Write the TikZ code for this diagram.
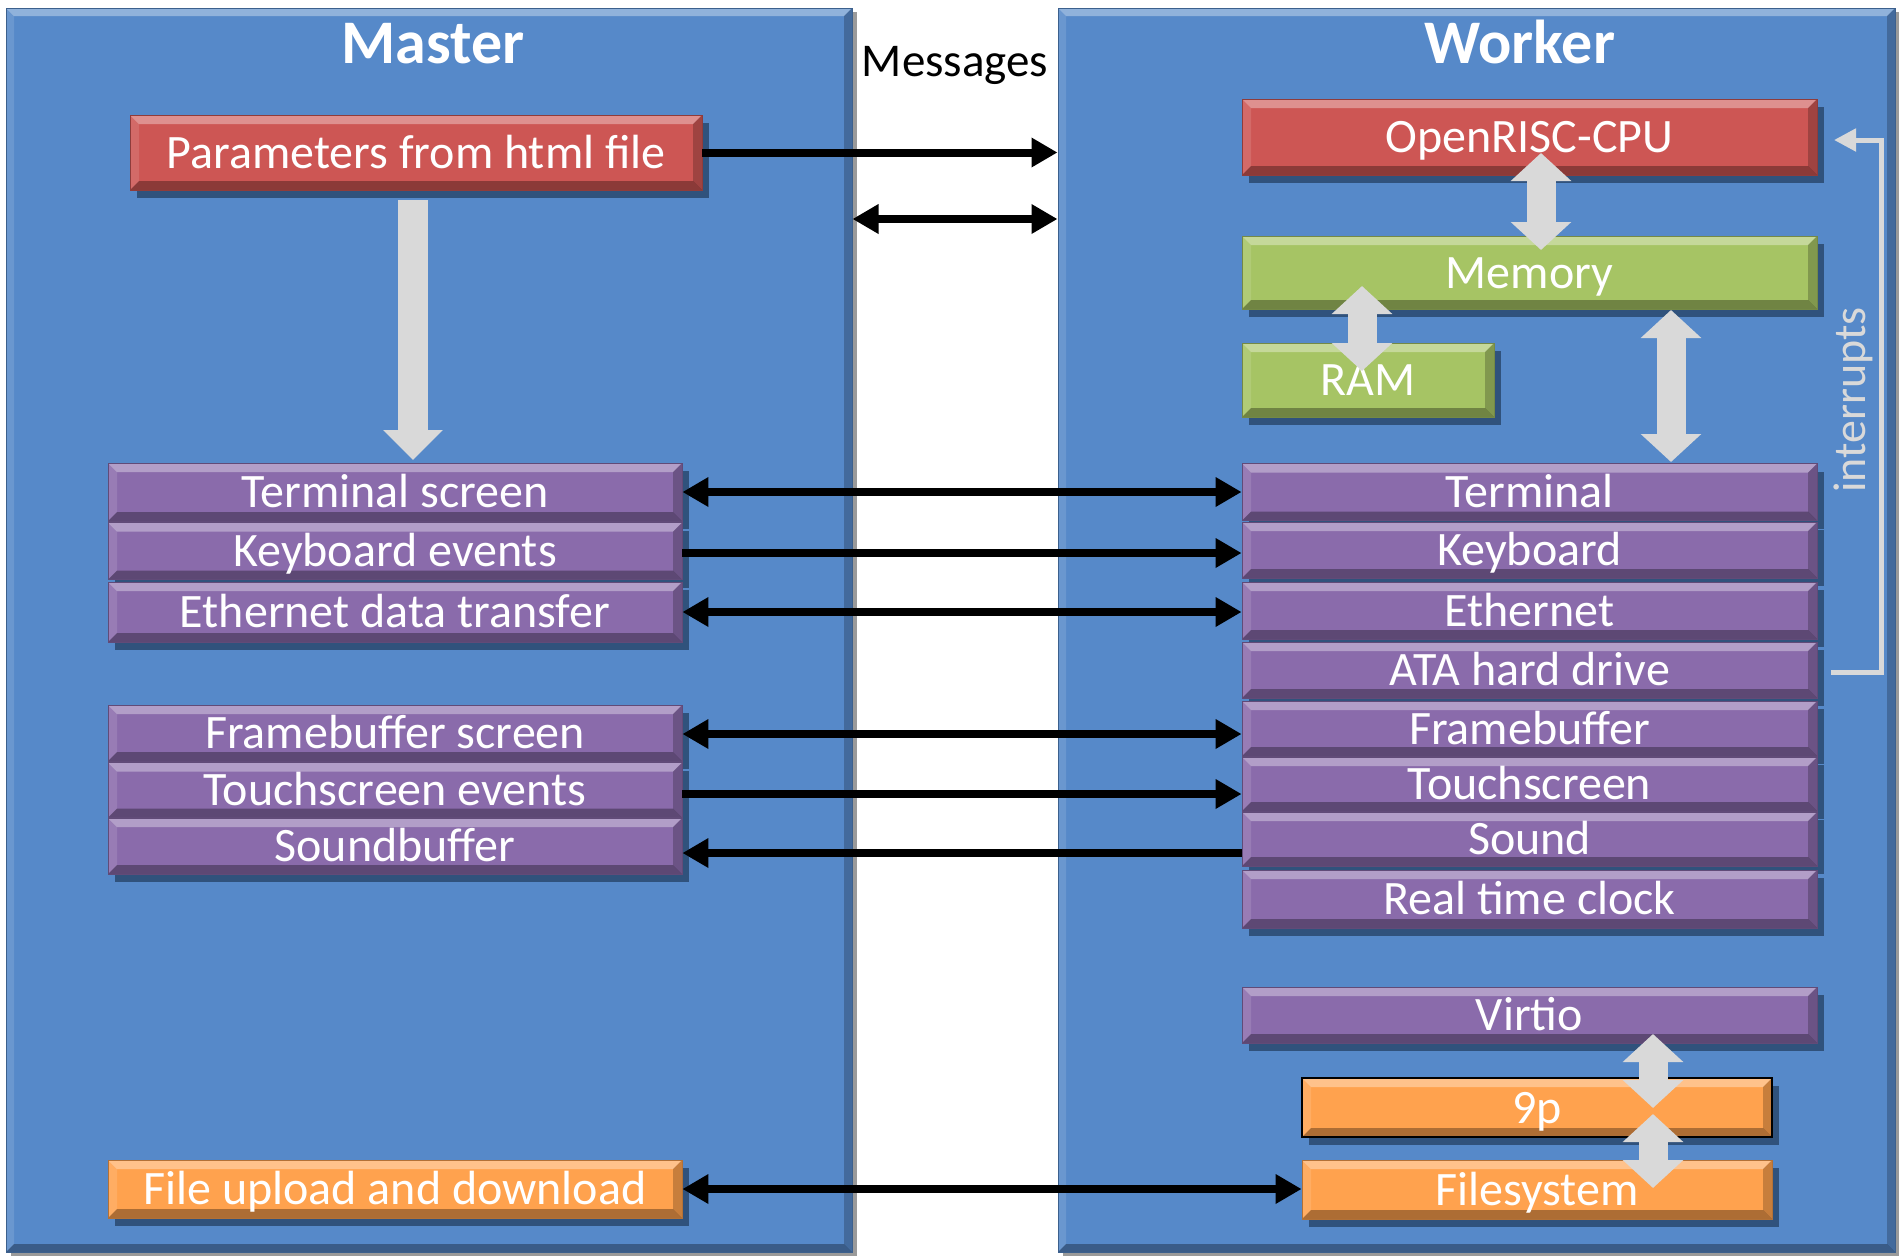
\documentclass[tikz,border=0pt]{standalone}
\usepackage{fontspec}
\setmainfont{Carlito}
\usetikzlibrary{arrows.meta,calc}

\definecolor{panelblue}{HTML}{5689C9}
\definecolor{panelshade}{HTML}{9A9A9A}
\definecolor{boxshadow}{HTML}{30527C}
\definecolor{cpured}{HTML}{CD5654}
\definecolor{memgreen}{HTML}{A6C464}
\definecolor{devpurple}{HTML}{8A6BAB}
\definecolor{fsorange}{HTML}{FFA24E}
\definecolor{blockgray}{HTML}{D9D9D9}

\tikzset{
  bev/.store in=\bevsize, bev=9pt,
  % bevelled edges: light top/left, dark bottom/right
  bevel/.style={
    path picture={
      \fill[white,opacity=.35]
        (path picture bounding box.north west) -- (path picture bounding box.north east)
        -- ([shift={(-\bevsize,-\bevsize)}]path picture bounding box.north east)
        -- ([shift={(\bevsize,-\bevsize)}]path picture bounding box.north west) -- cycle;
      \fill[white,opacity=.12]
        (path picture bounding box.north west)
        -- ([shift={(\bevsize,-\bevsize)}]path picture bounding box.north west)
        -- ([shift={(\bevsize,\bevsize)}]path picture bounding box.south west)
        -- (path picture bounding box.south west) -- cycle;
      \fill[black,opacity=.32]
        (path picture bounding box.south west) -- (path picture bounding box.south east)
        -- ([shift={(-\bevsize,\bevsize)}]path picture bounding box.south east)
        -- ([shift={(\bevsize,\bevsize)}]path picture bounding box.south west) -- cycle;
      \fill[black,opacity=.22]
        (path picture bounding box.north east)
        -- (path picture bounding box.south east)
        -- ([shift={(-\bevsize,\bevsize)}]path picture bounding box.south east)
        -- ([shift={(-\bevsize,-\bevsize)}]path picture bounding box.north east) -- cycle;
    }
  },
  panel/.style={
    fill=panelblue, draw=panelblue!70!black, line width=1pt, inner sep=0pt,
    bev=8pt, bevel,
    preaction={fill=panelshade, transform canvas={shift={(5pt,-4pt)}}}
  },
  blockbox/.style={
    fill=#1, draw=#1!70!black, line width=0.8pt, inner sep=0pt,
    text=white, text height=31pt, text depth=0pt,
    font=\fontsize{48}{53}\selectfont,
    bev=9pt, bevel,
    preaction={fill=boxshadow, transform canvas={shift={(7pt,-8pt)}}}
  },
  title/.style={text=white, font=\fontsize{62}{68}\selectfont\bfseries, anchor=base},
  msg/.style={line width=8pt, black, arrows={Triangle[length=26pt,width=28pt]-Triangle[length=26pt,width=28pt]}},
  msgto/.style={line width=8pt, black, -{Triangle[length=26pt,width=28pt]}},
  bus/.style={line width=29pt, blockgray,
    {Triangle[length=28pt,width=59pt]}-{Triangle[length=28pt,width=59pt]}},
  busto/.style={line width=30pt, blockgray, -{Triangle[length=30pt,width=58pt]}},
}

\begin{document}
\begin{tikzpicture}[x=1pt,y=-1pt]
\useasboundingbox (0,0) rectangle (1899,1256);
\fill[white] (0,0) rectangle (1899,1256);

% the two sides
\node[panel, minimum width=846pt, minimum height=1244pt] (ms) at (429,630) {};
\node[panel, minimum width=837pt, minimum height=1244pt] (wk) at (1476.5,630) {};

\node[title] (mstitle) at (433,63) {Master};
\node[title] (wktitle) at (1520,63) {Worker};
\node[anchor=base, font=\fontsize{47}{52}\selectfont] (msgs) at (955,76) {Messages};

% master side
\node[blockbox=cpured, minimum width=572pt, minimum height=75pt] (ps) at (416,152.5) {Parameters from html file};
\node[blockbox=devpurple, minimum width=574pt, minimum height=58pt] (ts)  at (395,492) {Terminal screen};
\node[blockbox=devpurple, minimum width=574pt, minimum height=57pt] (ke)  at (395,551) {Keyboard events};
\node[blockbox=devpurple, minimum width=574pt, minimum height=60pt] (ed)  at (395,612) {Ethernet data transfer};
\node[blockbox=devpurple, minimum width=574pt, minimum height=56pt] (fbs) at (395,733) {Framebuffer screen};
\node[blockbox=devpurple, minimum width=574pt, minimum height=55pt] (tse) at (395,790) {Touchscreen events};
\node[blockbox=devpurple, minimum width=574pt, minimum height=56pt] (sb)  at (395,846) {Soundbuffer};
\node[blockbox=fsorange,  minimum width=574pt, minimum height=58pt] (fud) at (395,1189) {File upload and download};

% worker side
\node[blockbox=cpured,   minimum width=575pt, minimum height=76pt] (cpu) at (1529.5,137) {OpenRISC-CPU};
\node[blockbox=memgreen, minimum width=575pt, minimum height=73pt] (mem) at (1529.5,272.5) {Memory};
\node[blockbox=memgreen, minimum width=252pt, minimum height=74pt] (ram) at (1368,380) {RAM};
\node[blockbox=devpurple, minimum width=575pt, minimum height=57pt] (term)  at (1529.5,492) {Terminal};
\node[blockbox=devpurple, minimum width=575pt, minimum height=56pt] (kbd)   at (1529.5,550) {Keyboard};
\node[blockbox=devpurple, minimum width=575pt, minimum height=57pt] (eth)   at (1529.5,610.5) {Ethernet};
\node[blockbox=devpurple, minimum width=575pt, minimum height=56pt] (ata)   at (1529.5,670) {ATA hard drive};
\node[blockbox=devpurple, minimum width=575pt, minimum height=55pt] (fb)    at (1529.5,728.5) {Framebuffer};
\node[blockbox=devpurple, minimum width=575pt, minimum height=54pt] (touch) at (1529.5,784) {Touchscreen};
\node[blockbox=devpurple, minimum width=575pt, minimum height=54pt] (sound) at (1529.5,839) {Sound};
\node[blockbox=devpurple, minimum width=575pt, minimum height=58pt] (rtc)   at (1529.5,899) {Real time clock};
\node[blockbox=devpurple, minimum width=575pt, minimum height=56pt] (virtio) at (1529.5,1015) {Virtio};
\node[blockbox=fsorange, draw=black, line width=2.5pt, minimum width=470pt, minimum height=59pt] (ninep) at (1537,1107.5) {9p};
\node[blockbox=fsorange, minimum width=470pt, minimum height=59pt] (fs) at (1537,1189.5) {Filesystem};

% messages between master and worker
\draw[msgto] (ps.east) -- (ps.east -| wk.west);
\draw[msg] (ms.east |- 0,219) -- (wk.west |- 0,219);
\draw[msg] (ts.east) -- (ts.east -| term.west);
\draw[msgto] ([yshift=-2pt]ke.east) -- ([yshift=-2pt]ke.east -| kbd.west);
\draw[msg] (ed.east) -- (ed.east -| eth.west);
\draw[msg] ([yshift=-1pt]fbs.east) -- ([yshift=-1pt]fbs.east -| fb.west);
\draw[msgto] ([yshift=-4pt]tse.east) -- ([yshift=-4pt]tse.east -| touch.west);
\draw[msgto] ([yshift=-7pt]sb.east -| sound.west) -- ([yshift=-7pt]sb.east);
\draw[msg] (fud.east) -- (fud.east -| fs.west);

% internal buses
\coordinate (p1) at (413,200);   \coordinate (p2) at (413,460);
\coordinate (c1) at (1541,153);  \coordinate (c2) at (1541,250);
\coordinate (r1) at (1362,286);  \coordinate (r2) at (1362,371);
\coordinate (t1) at (1671,310);  \coordinate (t2) at (1671,462);
\coordinate (v1) at (1653,1034); \coordinate (v2) at (1653,1108);
\coordinate (f1) at (1653,1114); \coordinate (f2) at (1653,1188);
\draw[busto] (p1) -- (p2);
\draw[bus] (c1) -- (c2);
\draw[bus] (r1) -- (r2);
\draw[bus] (t1) -- (t2);
\draw[bus] (v1) -- (v2);
\draw[bus] (f1) -- (f2);

% interrupt line from the devices back to the CPU
\coordinate (i1) at (1831,672);
\coordinate (i2) at (1881,672);
\coordinate (i3) at (1881,140);
\coordinate (i4) at (1834,140);
\draw[blockgray, line width=5pt, -{Triangle[length=22pt,width=22pt]}] (i1) -- (i2) -- (i3) -- (i4);
\node[rotate=90, text=blockgray, font=\fontsize{46}{50}\selectfont] (irq) at (1853,400) {interrupts};
\end{tikzpicture}
\end{document}
